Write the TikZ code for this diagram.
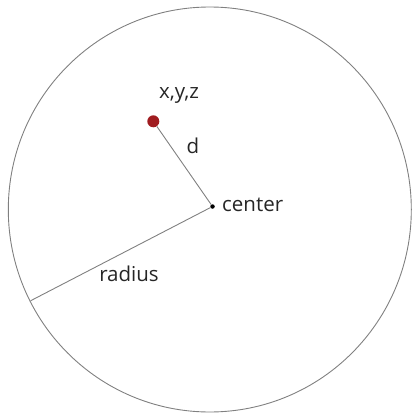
\documentclass[tikz,border=0pt]{standalone}
\usepackage{fontspec}
\setmainfont{Open Sans}
\definecolor{linegray}{RGB}{128,128,128}
\definecolor{dotred}{RGB}{160,28,32}
\tikzset{
  conn/.style={draw=linegray, line width=0.9pt},
  lbl/.style={font=\fontsize{20.5}{24}\selectfont, text=black!85, inner sep=0pt},
}
\begin{document}
\begin{tikzpicture}[x=1pt,y=-1pt]
\useasboundingbox (0,0) rectangle (412,414);
\draw[conn] (209.8,209.5) ellipse [x radius=201.5, y radius=202.5];
\coordinate (edge) at (30.7,300.7);
\node[circle, fill=black, inner sep=0pt, minimum size=4.5pt] (center) at (212.5,206.5) {};
\node[circle, fill=dotred, inner sep=0pt, minimum size=12pt] (pt) at (153.3,121.3) {};
\draw[conn] (pt) -- (center);
\draw[conn] (center) -- (edge);
\node[lbl, anchor=west] (lc) at (222,204.5) {center};
\node[lbl] (lxyz) at (179,95.5) {x,y,z};
\node[lbl] (ld) at (193,145.5) {d};
\node[lbl] (lr) at (129,274) {radius};
\end{tikzpicture}
\end{document}
